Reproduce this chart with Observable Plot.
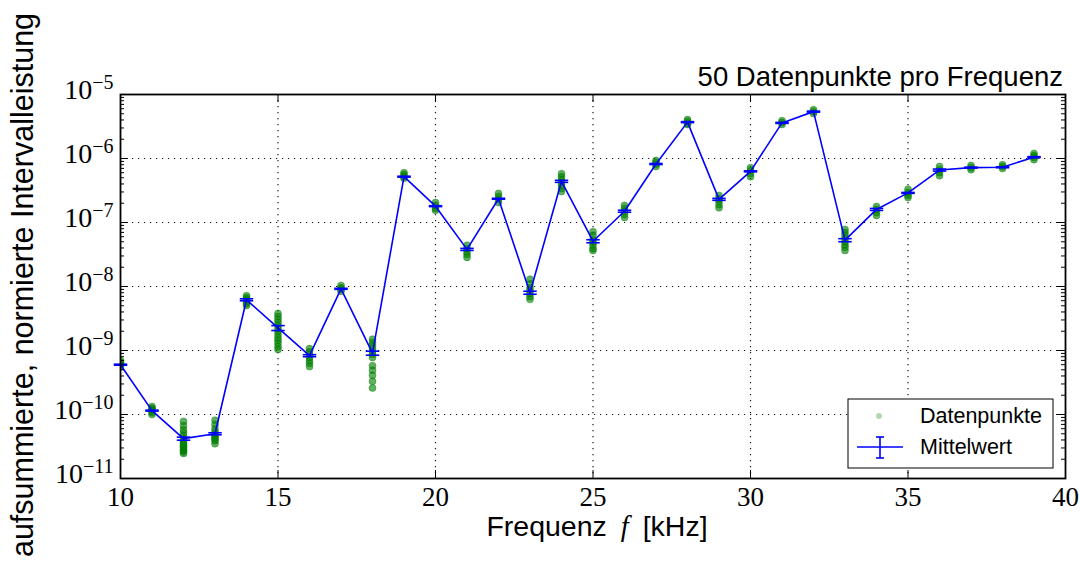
<!DOCTYPE html>
<html>
<head>
<meta charset="utf-8">
<script src="https://cdn.jsdelivr.net/npm/d3@7"></script>
<script src="https://cdn.jsdelivr.net/npm/@observablehq/plot@0.6"></script>
<style>
  html, body { margin: 0; padding: 0; background: #fff; }
  svg { display: block; }
</style>
</head>
<body>
<div id="chart"></div>
<script>
// ---------- data ----------
const frequencies = [10,11,12,13,14,15,16,17,18,19,20,21,22,23,24,25,26,27,28,29,30,31,32,33,34,35,36,37,38,39];
const meanValues = [6.0e-10,1.15e-10,4.2e-11,5.0e-11,6.2e-9,2.25e-9,8.3e-10,9.2e-9,9.1e-10,5.2e-7,
                    1.8e-7,3.8e-8,2.35e-7,8.0e-9,4.4e-7,5.1e-8,1.5e-7,8.2e-7,3.7e-6,2.3e-7,
                    6.3e-7,3.6e-6,5.4e-6,5.3e-8,1.6e-7,2.9e-7,6.6e-7,7.2e-7,7.3e-7,1.05e-6];
const semValues = [1.1e-11,2e-12,2.3e-12,1.8e-12,2.2e-10,2.0e-10,3.0e-11,1.7e-10,6.6e-11,9e-9,
                   3e-9,1.4e-9,4e-9,4.3e-10,1.6e-8,2.8e-9,5.4e-9,1.5e-8,6.7e-8,8e-9,
                   1.1e-8,6.5e-8,1e-7,2.9e-9,5.8e-9,5e-9,2.4e-8,1.3e-8,1.3e-8,1.9e-8];
const pointValues = [
  [7.0e-10,6.5e-10,6.2e-10,6.0e-10,5.6e-10],
  [1.33e-10,1.25e-10,1.2e-10,1.15e-10,1.07e-10,1.0e-10],
  [7.8e-11,6.7e-11,5.8e-11,5.2e-11,4.7e-11,4.2e-11,3.8e-11,3.6e-11,3.4e-11,3.2e-11,3.05e-11,2.85e-11,2.75e-11,2.6e-11,2.46e-11],
  [8.1e-11,7.0e-11,6.0e-11,5.4e-11,4.9e-11,4.6e-11,4.4e-11,4.1e-11,3.9e-11,3.5e-11],
  [7.2e-9,6.7e-9,6.3e-9,5.8e-9,5.4e-9,5.05e-9],
  [3.8e-9,3.4e-9,3.05e-9,2.75e-9,2.45e-9,2.2e-9,2.0e-9,1.8e-9,1.6e-9,1.45e-9,1.3e-9,1.15e-9,1.04e-9],
  [1.07e-9,9.6e-10,8.7e-10,7.8e-10,7.0e-10,6.3e-10,5.6e-10],
  [1.04e-8,9.6e-9,9.0e-9,8.4e-9],
  [1.5e-9,1.33e-9,1.2e-9,1.07e-9,9.6e-10,8.7e-10,7.8e-10,5.8e-10,4.9e-10,4.1e-10,3.3e-10,2.6e-10],
  [6.0e-7,5.6e-7,5.2e-7,4.9e-7],
  [2.05e-7,1.85e-7,1.66e-7,1.55e-7],
  [4.4e-8,3.9e-8,3.5e-8,3.15e-8,2.85e-8],
  [2.85e-7,2.55e-7,2.3e-7,2.05e-7],
  [1.3e-8,1.1e-8,9.6e-9,8.7e-9,7.8e-9,7.0e-9,6.3e-9],
  [5.8e-7,5.2e-7,4.7e-7,4.2e-7,3.8e-7,3.4e-7,3.05e-7],
  [7.2e-8,6.3e-8,5.4e-8,4.9e-8,4.4e-8,3.9e-8,3.65e-8],
  [1.85e-7,1.66e-7,1.5e-7,1.33e-7,1.2e-7],
  [9.3e-7,8.7e-7,8.1e-7,7.5e-7],
  [4.05e-6,3.8e-6,3.5e-6,3.4e-6],
  [2.65e-7,2.35e-7,2.15e-7,1.9e-7,1.7e-7],
  [7.2e-7,6.5e-7,5.8e-7,5.2e-7],
  [3.9e-6,3.65e-6,3.4e-6],
  [5.8e-6,5.4e-6,5.05e-6],
  [7.8e-8,7.0e-8,6.3e-8,5.6e-8,5.0e-8,4.5e-8,4.1e-8,3.65e-8],
  [1.78e-7,1.6e-7,1.43e-7,1.29e-7],
  [3.3e-7,2.95e-7,2.65e-7,2.45e-7],
  [7.5e-7,6.7e-7,6.0e-7,5.4e-7],
  [7.8e-7,7.2e-7,6.7e-7],
  [8.0e-7,7.5e-7,7.0e-7],
  [1.2e-6,1.11e-6,1.04e-6,9.6e-7]
];
const xTickValues = [10,15,20,25,30,35,40];
const xGridValues = [15,20,25,30,35];
const yTickValues = [1e-11,1e-10,1e-9,1e-8,1e-7,1e-6,1e-5];
const yGridValues = [1e-10,1e-9,1e-8,1e-7,1e-6];
const titleText = "50 Datenpunkte pro Frequenz";
const xLabelParts = ["Frequenz", "f", "[kHz]"];
const yLabelText = "aufsummierte, normierte Intervalleistung";
const legendLabels = ["Datenpunkte", "Mittelwert"];

// ---------- derived tables ----------
const meanTable = frequencies.map((f, i) => ({f, mean: meanValues[i], lo: meanValues[i] - semValues[i], hi: meanValues[i] + semValues[i]}));
const pointTable = frequencies.flatMap((f, i) => pointValues[i].map(v => ({f, v})));
const capTable = meanTable.flatMap(d => [{f: d.f, y: d.lo}, {f: d.f, y: d.hi}]);
const yMinorTicks = [];
for (let e = -11; e < -5; e++) for (let m = 2; m <= 9; m++) yMinorTicks.push(m * Math.pow(10, e));

// ---------- layout ----------
const W = 1080, H = 565, mL = 120, mR = 15, mT = 94, mB = 87;
const fw = W - mL - mR, fh = H - mT - mB;
const capSymbol = { draw(ctx, size) { const w = Math.sqrt(size); ctx.moveTo(-w, 0); ctx.lineTo(w, 0); } };
const GREEN = "#008000", BLUE = "#0000ff";

const chart = Plot.plot({
  width: W, height: H,
  marginLeft: mL, marginRight: mR, marginTop: mT, marginBottom: mB,
  style: {background: "#fff", fontFamily: "'Liberation Serif', 'DejaVu Serif', serif", fontSize: "28px", color: "#000", overflow: "visible"},
  x: {domain: [10, 40]},
  y: {type: "log", domain: [1e-11, 1e-5]},
  marks: [
    Plot.gridX(xGridValues, {stroke: "#000", strokeOpacity: 0.9, strokeWidth: 1.2, strokeDasharray: "1.2,4.8"}),
    Plot.gridY(yGridValues, {stroke: "#000", strokeOpacity: 0.9, strokeWidth: 1.2, strokeDasharray: "1.2,4.8"}),
    Plot.dot(pointTable, {x: "f", y: "v", r: 3.5, fill: GREEN, fillOpacity: 0.62, stroke: GREEN, strokeOpacity: 0.5, strokeWidth: 0.8, clip: true}),
    Plot.line(meanTable, {x: "f", y: "mean", stroke: BLUE, strokeWidth: 1.6, clip: true}),
    Plot.ruleX(meanTable, {x: "f", y1: "lo", y2: "hi", stroke: BLUE, strokeWidth: 1.6}),
    Plot.dot(capTable, {x: "f", y: "y", symbol: capSymbol, r: 3.8, stroke: BLUE, strokeWidth: 1.6, fill: "none"}),
    // inward ticks
    Plot.tickX(xTickValues, {x: d => d, insetTop: fh - 8, stroke: "#000", strokeWidth: 1}),
    Plot.tickX(xTickValues, {x: d => d, insetBottom: fh - 8, stroke: "#000", strokeWidth: 1}),
    Plot.tickY(yTickValues, {y: d => d, insetRight: fw - 8, stroke: "#000", strokeWidth: 1}),
    Plot.tickY(yTickValues, {y: d => d, insetLeft: fw - 8, stroke: "#000", strokeWidth: 1}),
    Plot.tickY(yMinorTicks, {y: d => d, insetRight: fw - 4, stroke: "#000", strokeWidth: 1}),
    Plot.tickY(yMinorTicks, {y: d => d, insetLeft: fw - 4, stroke: "#000", strokeWidth: 1}),
    Plot.axisX(xTickValues, {tickSize: 0, tickPadding: 8, label: null, fontSize: 27}),
    Plot.axisY(yTickValues, {tickSize: 0, tickPadding: 7, label: null, fontSize: 28, tickFormat: d => String(Math.round(Math.log10(d)))}),
    Plot.frame({stroke: "#000", strokeWidth: 1.8})
  ]
});
document.getElementById("chart").append(chart);

const svg = d3.select(chart);
// y tick labels as 10^n
svg.selectAll('g[aria-label="y-axis tick label"] text').each(function() {
  const exp = this.textContent.replace("-", "\u2212");
  const t = d3.select(this);
  t.text(null);
  t.append("tspan").attr("dy", -4).text("10");
  t.append("tspan").attr("dy", -10).attr("font-size", 20).text(exp);
});

const sans = "'Liberation Sans', Arial, Helvetica, sans-serif";
// title
svg.append("text").attr("x", 1063).attr("y", 86).attr("text-anchor", "end")
  .attr("font-family", sans).attr("font-size", 27.5).attr("fill", "#000").text(titleText);
// x label
const xl = svg.append("text").attr("x", 597).attr("y", 536).attr("text-anchor", "middle")
  .attr("font-family", sans).attr("font-size", 28.5).attr("fill", "#000");
xl.append("tspan").text(xLabelParts[0]);
xl.append("tspan").attr("dx", 14).attr("font-family", "'Liberation Serif', serif").attr("font-style", "italic").text(xLabelParts[1]);
xl.append("tspan").attr("dx", 14).text(xLabelParts[2]);
// y label
svg.append("text").attr("transform", "translate(33,285) rotate(-90)").attr("text-anchor", "middle")
  .attr("font-family", sans).attr("font-size", 30.5).attr("fill", "#000").text(yLabelText);
// legend
const lg = svg.append("g").attr("text-anchor", "start");
lg.append("rect").attr("x", 848).attr("y", 399).attr("width", 205).attr("height", 69)
  .attr("fill", "#fff").attr("stroke", "#000").attr("stroke-width", 1);
lg.append("circle").attr("cx", 879).attr("cy", 416).attr("r", 3).attr("fill", GREEN).attr("fill-opacity", 0.3);
lg.append("text").attr("x", 920).attr("y", 423).attr("text-anchor", "start").attr("font-family", sans).attr("font-size", 21.5).attr("fill", "#000").text(legendLabels[0]);
lg.append("line").attr("x1", 857).attr("x2", 903).attr("y1", 447).attr("y2", 447).attr("stroke", BLUE).attr("stroke-width", 1.6);
lg.append("line").attr("x1", 880).attr("x2", 880).attr("y1", 437).attr("y2", 458).attr("stroke", BLUE).attr("stroke-width", 1.6);
lg.append("line").attr("x1", 876).attr("x2", 884).attr("y1", 437).attr("y2", 437).attr("stroke", BLUE).attr("stroke-width", 1.6);
lg.append("line").attr("x1", 876).attr("x2", 884).attr("y1", 458).attr("y2", 458).attr("stroke", BLUE).attr("stroke-width", 1.6);
lg.append("text").attr("x", 920).attr("y", 454).attr("text-anchor", "start").attr("font-family", sans).attr("font-size", 21.5).attr("fill", "#000").text(legendLabels[1]);
</script>
</body>
</html>
